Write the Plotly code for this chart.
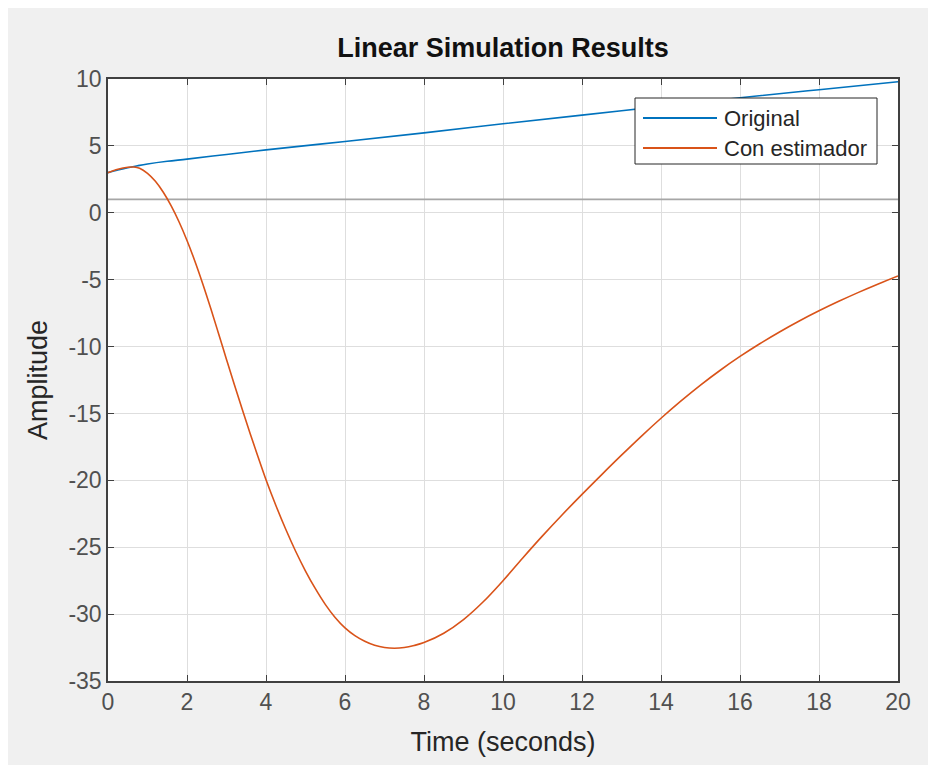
import plotly.graph_objects as go

# Data
t_orig = [0, 0.25, 0.5, 0.75, 1.0, 1.5, 2.0, 3.0, 4.0, 6.0, 8.0, 10.0, 12.0, 14.0, 16.0, 18.0, 20.0]
y_orig = [3.0, 3.2, 3.37, 3.52, 3.65, 3.85, 4.01, 4.36, 4.70, 5.33, 5.97, 6.65, 7.30, 7.95, 8.6, 9.2, 9.8]

t_est = [0, 0.25, 0.5, 0.65, 0.8, 1.0, 1.2, 1.4, 1.6, 1.8, 2.0, 2.2, 2.4, 2.6, 2.8, 3.0,
         3.2, 3.4, 3.6, 3.8, 4.0, 4.25, 4.5, 4.75, 5.0, 5.25, 5.5, 5.75, 6.0, 6.25, 6.5,
         6.75, 7.0, 7.25, 7.5, 7.75, 8.0, 8.5, 9.0, 9.5, 10.0, 10.5, 11.0, 11.5, 12.0, 12.5,
         13.0, 13.5, 14.0, 14.5, 15.0, 15.5, 16.0, 16.5, 17.0, 17.5, 18.0, 18.5, 19.0,
         19.5, 20.0]
y_est = [3.0, 3.25, 3.4, 3.42, 3.33, 2.95, 2.35, 1.53, 0.51, -0.69, -2.07, -3.62, -5.32, -7.14, -9.04, -10.96,
         -12.86, -14.71, -16.51, -18.26, -19.96, -21.88, -23.66, -25.3, -26.78, -28.1, -29.27, -30.25, -31.03, -31.61, -32.03,
         -32.33, -32.5, -32.55, -32.5, -32.35, -32.13, -31.43, -30.41, -29.08, -27.5, -25.8, -24.15, -22.57, -21.05, -19.57,
         -18.12, -16.71, -15.36, -14.08, -12.88, -11.77, -10.74, -9.79, -8.91, -8.09, -7.33, -6.62, -5.95,
         -5.32, -4.72]

t_input = [0, 20]
u_input = [1, 1]

x_ticks = [0, 2, 4, 6, 8, 10, 12, 14, 16, 18, 20]
y_ticks = [10, 5, 0, -5, -10, -15, -20, -25, -30, -35]
y_ticktext = [str(v) for v in y_ticks]

series_names = ["Original", "Con estimador"]
series_colors = ["#0072BD", "#D95319"]

FONT = "Liberation Sans, Arial, Helvetica, sans-serif"

fig = go.Figure()
fig.add_trace(go.Scatter(x=t_input, y=u_input, mode="lines", showlegend=False,
                         line=dict(color="#a6a6a6", width=1.6), hoverinfo="skip"))
fig.add_trace(go.Scatter(x=t_orig, y=y_orig, mode="lines", name=series_names[0], showlegend=False,
                         line=dict(color=series_colors[0], width=1.6, shape="spline", smoothing=1.0)))
fig.add_trace(go.Scatter(x=t_est, y=y_est, mode="lines", name=series_names[1], showlegend=False,
                         line=dict(color=series_colors[1], width=1.6, shape="spline", smoothing=1.0)))

# plot area in figure pixels: x 100..890, y 71..673
L, R, T, B = 100, 890, 71, 673
W, H = R - L, B - T


def px(fx):
    return (fx - L) / W


def py(fy):
    return (B - fy) / H


shapes = [
    # legend box
    dict(type="rect", xref="paper", yref="paper", x0=px(627), x1=px(869), y0=py(156), y1=py(90),
         fillcolor="white", line=dict(color="#262626", width=1)),
]
annotations = []
row_y = [110, 140]
for name, col, ry in zip(series_names, series_colors, row_y):
    shapes.append(dict(type="line", xref="paper", yref="paper", x0=px(635), x1=px(709),
                       y0=py(ry), y1=py(ry), line=dict(color=col, width=2)))
    annotations.append(dict(text=name, xref="paper", yref="paper", x=px(714), y=py(ry),
                            xanchor="left", yanchor="middle", showarrow=False,
                            font=dict(size=22, color="#262626", family=FONT)))

fig.update_layout(
    width=936, height=765,
    margin=dict(l=L, r=936 - R, t=T, b=765 - B),
    paper_bgcolor="#f0f0f0",
    plot_bgcolor="white",
    font=dict(family=FONT, color="#262626"),
    title=dict(text="<b>Linear Simulation Results</b>", x=px(495), xanchor="center", xref="paper",
               y=1 - 40 / 765, yanchor="middle",
               font=dict(size=27, color="#111111", family=FONT)),
    xaxis=dict(range=[0, 20], tickvals=x_ticks, ticks="inside", ticklen=6,
               tickcolor="#404040", showgrid=True, gridcolor="#dedede", gridwidth=1,
               showline=True, linecolor="#404040", linewidth=1.5, mirror="ticks",
               zeroline=False, tickfont=dict(size=23, color="#505050"),
               title=dict(text="Time (seconds)", font=dict(size=27, color="#262626"), standoff=18)),
    yaxis=dict(range=[-35, 10], tickvals=y_ticks, ticktext=y_ticktext, ticks="inside", ticklen=6,
               tickcolor="#404040", showgrid=True, gridcolor="#dedede", gridwidth=1,
               showline=True, linecolor="#404040", linewidth=1.5, mirror="ticks",
               zeroline=False, tickfont=dict(size=23, color="#505050"),
               title=dict(text="Amplitude", font=dict(size=27, color="#262626"), standoff=13)),
    showlegend=False,
    shapes=shapes,
    annotations=annotations,
)

fig.write_html("out.html")
